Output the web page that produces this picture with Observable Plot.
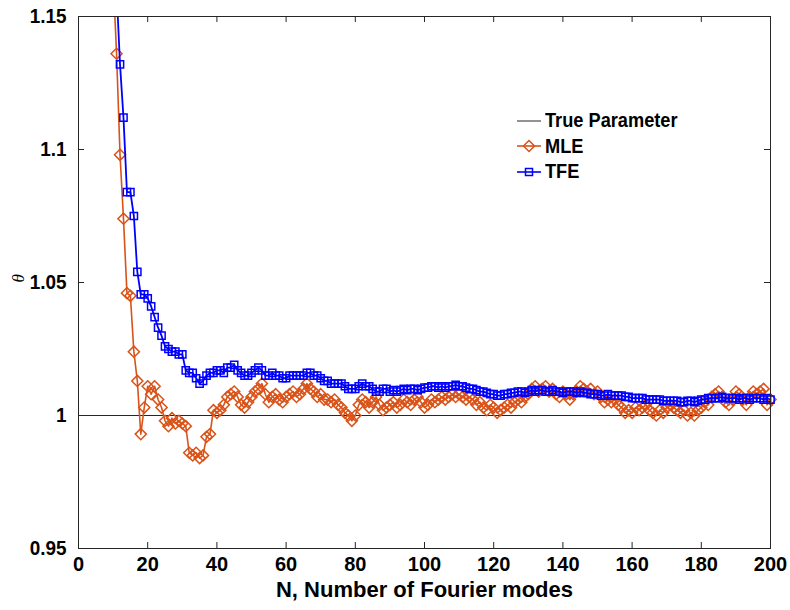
<!DOCTYPE html>
<html>
<head>
<meta charset="utf-8">
<script src="https://cdn.jsdelivr.net/npm/d3@7"></script>
<script src="https://cdn.jsdelivr.net/npm/@observablehq/plot@0.6"></script>
<style>
  body { margin: 0; background: #fff; }
  #wrap { position: relative; width: 790px; height: 610px; }
  #legend { position: absolute; left: 516px; top: 108px; font-family: "Liberation Sans", Arial, sans-serif; font-weight: bold; font-size: 20px; color: #000; }
  #legend .row { display: flex; align-items: center; height: 25.5px; }
  #legend svg { margin-right: 3px; flex: none; }
  #legend span { display: inline-block; transform: scaleX(0.91); transform-origin: left center; white-space: nowrap; }
</style>
</head>
<body>
<div id="wrap"><div id="chart"></div><div id="legend"></div></div>
<script>
// N, number of Fourier modes
const nModes = d3.range(10, 201);
const xTicks = [0, 20, 40, 60, 80, 100, 120, 140, 160, 180, 200];
const yTicks = [0.95, 1, 1.05, 1.1, 1.15];
const yTickLabels = ["0.95", "1", "1.05", "1.1", "1.15"];
const trueParameter = 1;
const seriesNames = ["True Parameter", "MLE", "TFE"];
const seriesColors = ["#262626", "#D95319", "#0000FF"];

const mle = [
  1.165,1.136,1.098,1.074,1.046,1.045,1.024,1.013,0.993,1.003,
  1.011,1.008,1.011,1.006,1.003,0.998,0.996,0.999,0.997,0.998,
  0.997,0.996,0.986,0.985,0.986,0.984,0.985,0.992,0.993,1.002,
  1.001,
  1.002,1.004,1.007,1.008,1.009,1.007,1.004,1.003,1.005,1.007,
  1.009,1.010,1.012,1.008,1.005,1.007,1.008,1.006,1.005,1.007,
  1.008,1.009,1.007,1.008,1.010,1.012,1.010,1.009,1.007,1.008,
  1.006,1.006,1.005,1.006,1.004,1.003,1.001,1.000,0.998,1.000,
  1.004,1.006,1.005,1.003,1.005,1.007,1.004,1.002,1.003,1.004,
  1.005,1.003,1.004,1.006,1.005,1.004,1.006,1.007,1.005,1.003,
  1.004,1.006,1.005,1.006,1.007,1.006,1.007,1.008,1.007,1.008,
  1.007,1.006,1.007,1.006,1.004,1.005,1.003,1.002,1.004,1.003,
  1.001,1.002,1.003,1.004,1.003,1.005,1.006,1.005,1.007,1.008,
  1.010,1.011,1.009,1.010,1.011,1.009,1.010,1.008,1.007,1.009,
  1.008,1.006,1.008,1.009,1.011,1.010,1.009,1.010,1.008,1.009,
  1.007,1.005,1.006,1.005,1.006,1.004,1.003,1.001,1.002,1.001,
  1.003,1.002,1.003,1.004,1.002,1.001,1.000,1.002,1.001,1.003,
  1.004,1.003,1.002,1.001,1.002,1.000,1.001,1.000,1.002,1.003,
  1.005,1.004,1.007,1.008,1.009,1.007,1.005,1.004,1.006,1.009,
  1.008,1.006,1.004,1.007,1.009,1.008,1.009,1.010,1.004,1.006
];

const tfe = [
  1.19,1.16,1.132,1.112,1.084,1.084,1.075,1.054,1.0455,1.0455,
  1.044,1.041,1.037,1.033,1.030,1.026,1.025,1.024,1.024,1.023,
  1.023,1.017,1.016,1.016,1.014,1.012,1.013,1.015,1.016,1.016,
  1.017,
  1.017,1.016,1.018,1.018,1.019,1.017,1.016,1.015,1.015,1.016,
  1.017,1.018,1.017,1.015,1.015,1.016,1.015,1.015,1.014,1.014,
  1.015,1.015,1.015,1.015,1.015,1.016,1.016,1.015,1.015,1.014,
  1.013,1.013,1.012,1.012,1.012,1.012,1.011,1.010,1.010,1.010,
  1.011,1.012,1.011,1.011,1.010,1.009,1.009,1.010,1.010,1.009,
  1.0095,1.009,1.0095,1.010,1.0095,1.010,1.010,1.0095,1.010,1.0105,
  1.0105,1.011,1.011,1.0105,1.011,1.0105,1.011,1.011,1.0115,1.011,
  1.011,1.0105,1.010,1.010,1.0095,1.009,1.009,1.0085,1.008,1.008,
  1.0075,1.0075,1.008,1.008,1.0085,1.0085,1.009,1.009,1.0085,1.009,
  1.0095,1.009,1.0095,1.0095,1.009,1.009,1.0095,1.009,1.009,1.0085,
  1.009,1.009,1.009,1.0085,1.009,1.0085,1.0085,1.008,1.008,1.008,
  1.0075,1.0075,1.008,1.0075,1.0075,1.0075,1.0075,1.007,1.007,1.0065,
  1.0065,1.0065,1.0065,1.006,1.006,1.006,1.006,1.006,1.0055,1.0055,
  1.0055,1.0055,1.0055,1.005,1.005,1.0055,1.0055,1.005,1.0055,1.006,
  1.006,1.0065,1.0065,1.0065,1.0065,1.007,1.0065,1.0065,1.0065,1.0065,
  1.006,1.0065,1.0065,1.006,1.0065,1.0065,1.0065,1.006,1.0065,1.006
];

const mleData = nModes.map((n, i) => ({n, v: mle[i]}));
const tfeData = nModes.map((n, i) => ({n, v: tfe[i]}));
const labelOf = new Map(yTicks.map((t, i) => [t, yTickLabels[i]]));
const axisColor = "#262626";
const font = "'Liberation Sans', Arial, sans-serif";

const chart = Plot.plot({
  width: 790,
  height: 610,
  marginLeft: 78,
  marginRight: 20,
  marginTop: 16,
  marginBottom: 62,
  style: {fontFamily: font, fontWeight: "bold", color: "#000", background: "#fff"},
  x: {domain: [0, 200]},
  y: {domain: [0.95, 1.15]},
  marks: [
    Plot.ruleY([trueParameter], {stroke: seriesColors[0], strokeWidth: 1}),
    Plot.line(mleData, {x: "n", y: "v", stroke: seriesColors[1], strokeWidth: 1.6, clip: true}),
    Plot.dot(mleData, {x: "n", y: "v", symbol: "diamond2", r: 5, stroke: seriesColors[1], strokeWidth: 1.5, fill: "none"}),
    Plot.line(tfeData, {x: "n", y: "v", stroke: seriesColors[2], strokeWidth: 1.8, clip: true}),
    Plot.dot(tfeData, {x: "n", y: "v", symbol: "square2", r: 4.6, stroke: seriesColors[2], strokeWidth: 1.5, fill: "none"}),
    Plot.frame({stroke: axisColor, strokeWidth: 1}),
    // inward ticks (bottom/top/left/right)
    Plot.ruleX(xTicks, {x: d => d, y1: 0.95, y2: 0.95, insetBottom: 6, stroke: axisColor}),
    Plot.ruleX(xTicks, {x: d => d, y1: 1.15, y2: 1.15, insetTop: 6, stroke: axisColor}),
    Plot.ruleY(yTicks, {y: d => d, x1: 0, x2: 0, insetLeft: 6, stroke: axisColor}),
    Plot.ruleY(yTicks, {y: d => d, x1: 200, x2: 200, insetRight: 6, stroke: axisColor}),
    Plot.axisX(xTicks, {tickSize: 0, tickPadding: 8, fontSize: 20, fontWeight: "bold", label: null, ariaLabel: "x-axis tick label"}),
    Plot.axisY(yTicks, {tickSize: 0, tickPadding: 12, fontSize: 21, fontWeight: "bold", label: null, tickFormat: d => labelOf.get(d)}),
    Plot.text(["N, Number of Fourier modes"], {frameAnchor: "bottom", dy: 48, fontSize: 22, fontWeight: "bold", ariaLabel: "x-axis title"}),
    Plot.text(["θ"], {frameAnchor: "left", dx: -60, rotate: -90, fontSize: 17, fontStyle: "italic", fontWeight: "normal", fontFamily: "'Liberation Serif', serif"})
  ]
});
document.getElementById("chart").append(chart);

// Condense glyphs horizontally (MATLAB-style narrow bold labels) without moving anchors
function condense(selector, ratio) {
  chart.querySelectorAll(selector).forEach(t => {
    const w = t.getComputedTextLength();
    if (w > 0) {
      t.setAttribute("textLength", (w * ratio).toFixed(2));
      t.setAttribute("lengthAdjust", "spacingAndGlyphs");
    }
  });
}
condense('g[aria-label="x-axis tick label"] text', 0.88);
condense('g[aria-label="y-axis tick label"] text', 0.9);

// legend
const legend = d3.select("#legend");
seriesNames.forEach((name, i) => {
  const row = legend.append("div").attr("class", "row");
  const svg = row.append("svg").attr("width", 26).attr("height", 20);
  svg.append("line").attr("x1", 1).attr("x2", 25).attr("y1", 10).attr("y2", 10)
    .attr("stroke", seriesColors[i]).attr("stroke-width", i === 0 ? 1 : 1.6);
  if (i === 1) svg.append("path").attr("d", "M13,4.5L18.5,10L13,15.5L7.5,10Z").attr("fill", "none").attr("stroke", seriesColors[i]).attr("stroke-width", 1.5);
  if (i === 2) svg.append("rect").attr("x", 9.5).attr("y", 6.5).attr("width", 7).attr("height", 7).attr("fill", "none").attr("stroke", seriesColors[i]).attr("stroke-width", 1.5);
  row.append("span").text(name);
});
</script>
</body>
</html>
